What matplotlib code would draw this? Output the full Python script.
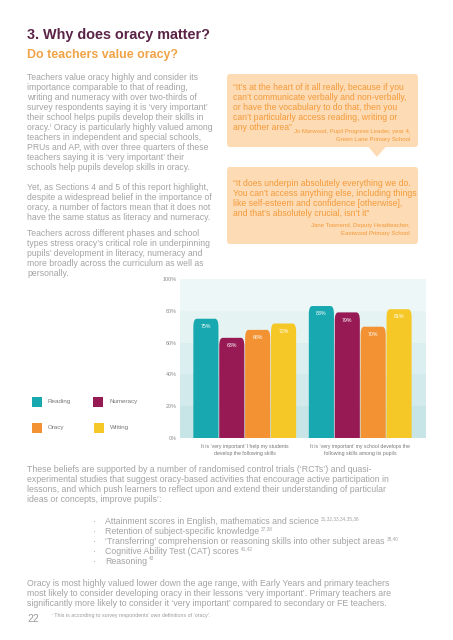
import matplotlib
matplotlib.use("Agg")
import matplotlib.pyplot as plt
from matplotlib.patches import FancyBboxPatch, Polygon, Rectangle
import numpy as np

plt.rcParams['font.family'] = ['Liberation Sans', 'DejaVu Sans']

# ---------------- data ----------------
categories = ["It is \u2018very important\u2019 I help my students\ndevelop the following skills",
              "It is \u2018very important\u2019 my school develops the\nfollowing skills among its pupils"]
series_names = ["Reading", "Numeracy", "Oracy", "Writing"]
reading = [75, 83]
numeracy = [63, 79]
oracy = [68, 70]
writing = [72, 81]
series_values = [reading, numeracy, oracy, writing]
series_colors = ["#17A9AF", "#971A55", "#F39232", "#F5C828"]
yticks = [0, 20, 40, 60, 80, 100]
ytick_labels = ["0%", "20%", "40%", "60%", "80%", "100%"]

W, H = 453, 640
DPI = 100
fig = plt.figure(figsize=(W / DPI, H / DPI), dpi=DPI)
fig.patch.set_facecolor("white")

def px(x, y):
    return x / W, 1 - y / H

def T(x, y, s, size=6.2, color="#9E9E9E", ha="left", weight="normal", **kw):
    fx, fy = px(x, y)
    return fig.text(fx, fy, s, fontsize=size, color=color, ha=ha, va="center",
                    fontweight=weight, **kw)

# ---------------- headings ----------------
T(27, 35, "3. Why does oracy matter?", size=10.4, color="#5B2447", weight="bold")
T(27, 55, "Do teachers value oracy?", size=8.9, color="#F0A347", weight="bold")

body = "#A3A3A3"
left_lines = [
    "Teachers value oracy highly and consider its",
    "importance comparable to that of reading,",
    "writing and numeracy with over two-thirds of",
    "survey respondents saying it is \u2018very important\u2019",
    "their school helps pupils develop their skills in",
    "oracy.\u2071 Oracy is particularly highly valued among",
    "teachers in independent and special schools,",
    "PRUs and AP, with over three quarters of these",
    "teachers saying it is \u2018very important\u2019 their",
    "schools help pupils develop skills in oracy.",
]
for i, s in enumerate(left_lines):
    T(27, 77 + 10 * i, s, color=body)
p2 = ["Yet, as Sections 4 and 5 of this report highlight,",
      "despite a widespread belief in the importance of",
      "oracy, a number of factors mean that it does not",
      "have the same status as literacy and numeracy."]
for i, s in enumerate(p2):
    T(27, 187 + 10 * i, s, color=body)
p3 = ["Teachers across different phases and school",
      "types stress oracy\u2019s critical role in underpinning",
      "pupils\u2019 development in literacy, numeracy and",
      "more broadly across the curriculum as well as",
      "personally."]
for i, s in enumerate(p3):
    T(27, 233 + 10 * i, s, color=body)

# ---------------- quote boxes ----------------
peach = "#FDDBB4"
qcol = "#F39A3A"
def box(x0, y0, x1, y1):
    fx0, fy1 = px(x0, y1)
    fx1, fy0 = px(x1, y0)
    p = FancyBboxPatch((fx0, fy1), fx1 - fx0, fy0 - fy1,
                       boxstyle="round,pad=0,rounding_size=0.006",
                       transform=fig.transFigure, facecolor=peach,
                       edgecolor="none")
    fig.patches.append(p)

box(227, 74, 418, 147)
tri = Polygon([px(368, 146.5), px(386, 146.5), px(377, 157)], closed=True,
              transform=fig.transFigure, facecolor=peach, edgecolor="none")
fig.patches.append(tri)
q1 = ["\u201cIt\u2019s at the heart of it all really, because if you",
      "can\u2019t communicate verbally and non-verbally,",
      "or have the vocabulary to do that, then you",
      "can\u2019t particularly access reading, writing or",
      "any other area\u201d"]
for i, s in enumerate(q1):
    T(233, 87 + 10 * i, s, color=qcol)
T(410, 131, "Jo Marwood, Pupil Progress Leader, year 4,", size=4.3, color=qcol, ha="right")
T(410, 140, "Green Lane Primary School", size=4.3, color=qcol, ha="right")

box(227, 167, 418, 244)
q2 = ["\u201cIt does underpin absolutely everything we do.",
      "You can\u2019t access anything else, including things",
      "like self-esteem and confidence [otherwise],",
      "and that\u2019s absolutely crucial, isn\u2019t it\u201d"]
for i, s in enumerate(q2):
    T(233, 184 + 10 * i, s, color=qcol)
T(410, 226, "Jane Townend, Deputy Headteacher,", size=4.3, color=qcol, ha="right")
T(410, 234, "Eastwood Primary School", size=4.3, color=qcol, ha="right")

# ---------------- chart ----------------
ax_l, ax_r, ax_t, ax_b = 180, 426, 279, 438
ax = fig.add_axes([ax_l / W, 1 - ax_b / H, (ax_r - ax_l) / W, (ax_b - ax_t) / H])
band_colors = ["#C7E5E7", "#D2EAEC", "#DCEFF0", "#E5F3F3", "#EEF7F7"]
for i, c in enumerate(band_colors):
    ax.axhspan(yticks[i], yticks[i + 1], color=c, lw=0, zorder=0)

ax.set_xlim(-1.0, 8.5)
ax.set_ylim(0, 100)
# y units per x unit in display, for round corners
aspect = ((ax_b - ax_t) / 100.0) and (9.5 / (ax_r - ax_l)) * (100.0 / (ax_b - ax_t))
mut_aspect = 1.0 / aspect

group_starts = [0.0, 4.46]
for si, (name, vals, col) in enumerate(zip(series_names, series_values, series_colors)):
    xs = [g + si for g in group_starts]
    bars = ax.bar(xs, vals, width=0.97, color=col, zorder=2, linewidth=0)
    for b, v in zip(bars, vals):
        b.set_visible(False)
        rb = FancyBboxPatch((b.get_x(), -8), b.get_width(), b.get_height() + 8,
                            boxstyle="round,pad=0,rounding_size=0.13",
                            mutation_aspect=mut_aspect,
                            facecolor=col, edgecolor="none", zorder=2)
        ax.add_patch(rb)
        rb.set_clip_path(ax.patch)
        ax.annotate(f"{v}%", (b.get_x() + b.get_width() / 2, v),
                    xytext=(0, -5.5), textcoords="offset points",
                    ha="center", va="center", fontsize=3.8, color="white", zorder=3)

ax.set_xlim(-1.0, 8.5)
ax.set_ylim(0, 100)
ax.set_yticks(yticks)
ax.set_yticklabels(ytick_labels, fontsize=3.9, color="#888888")
ax.tick_params(axis="y", length=0, pad=2.5)
centers = [g + 1.5 for g in group_starts]
ax.set_xticks(centers)
ax.set_xticklabels(categories, fontsize=3.7, color="#777777", linespacing=1.5)
ax.tick_params(axis="x", length=0, pad=4)
for s in ax.spines.values():
    s.set_visible(False)

# legend (manual)
leg_pos = [(32, 402), (93, 402), (32, 428), (94, 428)]
for (lx, ly), name, col in zip(leg_pos, series_names, series_colors):
    fx, fy = px(lx, ly + 5)
    fig.patches.append(Rectangle((fx, fy), 10 / W, 10 / H, transform=fig.transFigure,
                                 facecolor=col, edgecolor="none"))
    T(lx + 16, ly, name, size=4.5, color="#777777")

# ---------------- lower text ----------------
body_size = 6.3
p4 = ["These beliefs are supported by a number of randomised control trials (\u2018RCTs\u2019) and quasi-",
      "experimental studies that suggest oracy-based activities that encourage active participation in",
      "lessons, and which push learners to reflect upon and extend their understanding of particular",
      "ideas or concepts, improve pupils\u2019:"]
for i, s in enumerate(p4):
    T(27, 470 + 10 * i, s, size=body_size, color=body)

bullets = [("Attainment scores in English, mathematics and science", "31,32,33,34,35,36"),
           ("Retention of subject-specific knowledge", "37,38"),
           ("\u2018Transferring\u2019 comprehension or reasoning skills into other subject areas", "39,40"),
           ("Cognitive Ability Test (CAT) scores", "41,42"),
           ("Reasoning", "43")]
renderer = fig.canvas.get_renderer()
for i, (s, sup) in enumerate(bullets):
    y = 522 + 10 * i
    T(93, y, "\u00b7", size=body_size, color=body)
    t = T(105, y, s, size=body_size, color=body)
    bb = t.get_window_extent(renderer=renderer)
    x_end = bb.x1
    T(x_end + 2, y - 3, sup, size=3.4, color=body)

p5 = ["Oracy is most highly valued lower down the age range, with Early Years and primary teachers",
      "most likely to consider developing oracy in their lessons \u2018very important\u2019. Primary teachers are",
      "significantly more likely to consider it \u2018very important\u2019 compared to secondary or FE teachers."]
for i, s in enumerate(p5):
    T(27, 583 + 10 * i, s, size=body_size, color=body)

T(27, 619, "22", size=7.5, color="#9A9A9A")
T(52, 616, "\u2071 This is according to survey respondents\u2019 own definitions of \u2018oracy\u2019.", size=3.8, color="#9A9A9A")

fig.savefig("out.png", dpi=DPI, facecolor="white")
